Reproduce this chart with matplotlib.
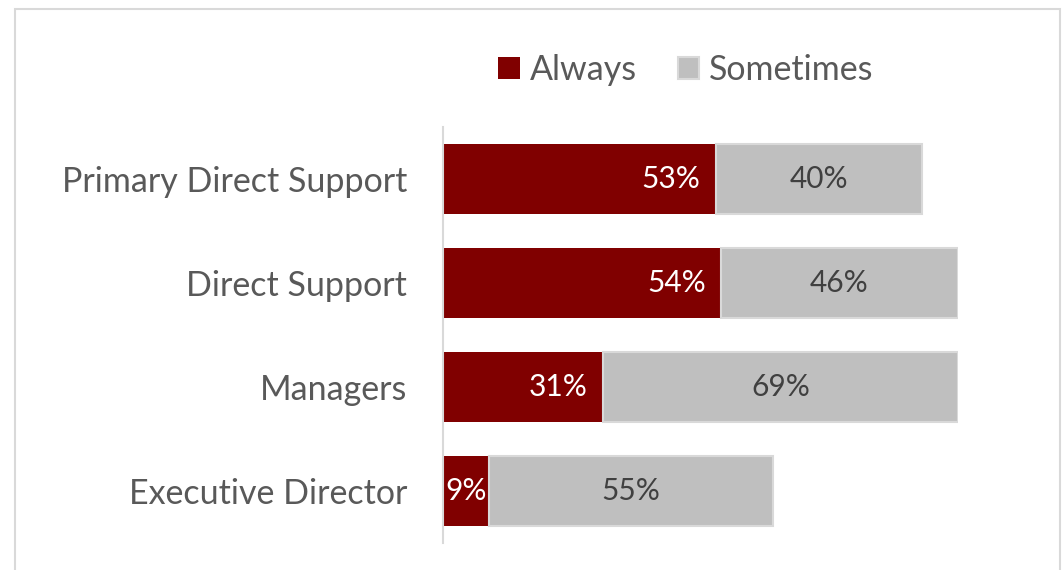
import matplotlib.pyplot as plt
from matplotlib.patches import Rectangle

plt.rcParams["font.family"] = ["Lato", "DejaVu Sans"]

categories = ["Primary Direct Support", "Direct Support", "Managers", "Executive Director"]
always = [53, 54, 31, 9]
sometimes = [40, 46, 69, 55]

RED = "#800000"
GRAY = "#bfbfbf"
TEXT = "#595959"


def main() -> None:
    fig = plt.figure(figsize=(10.63, 5.70), dpi=100)
    fig.patches.append(Rectangle((15 / 1063, -0.1), (1060 - 15) / 1063, 1.1 - 9 / 570,
                                 transform=fig.transFigure, fill=False,
                                 edgecolor="#d9d9d9", linewidth=1.5))

    ax = fig.add_axes([443 / 1063, 27 / 570, 515 / 1063, 416 / 570])
    y = list(range(len(categories)))

    b1 = ax.barh(y, always, height=0.67, color=RED, label="Always")
    b2 = ax.barh(y, sometimes, left=always, height=0.67, color=GRAY,
                 edgecolor="#d9d9d9", linewidth=1.5, label="Sometimes")

    # "Always" labels sit at the inside end of the red segment
    for yi, v in zip(y, always):
        ax.annotate(f"{v}%", xy=(v, yi), xytext=(-2 if v < 15 else -11, 0),
                    textcoords="offset points", ha="right", va="center",
                    color="white", fontsize=21.5)
    ax.bar_label(b2, labels=[f"{v}%" for v in sometimes], label_type="center",
                 color="#404040", fontsize=21.5)

    ax.set_xlim(0, 100)
    ax.set_ylim(3.5, -0.5)
    ax.set_yticks(y)
    ax.set_yticklabels(categories, fontsize=24.5, color=TEXT)
    ax.tick_params(axis="y", length=0, pad=26)
    ax.set_xticks([])
    for side in ("top", "right", "bottom"):
        ax.spines[side].set_visible(False)
    ax.spines["left"].set_color("#d9d9d9")
    ax.spines["left"].set_linewidth(1.5)

    fig.legend(handles=[b1, b2], loc="center", bbox_to_anchor=(686 / 1063, 1 - 70 / 570),
               ncol=2, frameon=False, fontsize=24.5, labelcolor=TEXT,
               handlelength=0.62, handleheight=0.62, handletextpad=0.3,
               columnspacing=1.2)

    fig.savefig("out.png", dpi=100)
    plt.close(fig)


if __name__ == "__main__":
    main()
